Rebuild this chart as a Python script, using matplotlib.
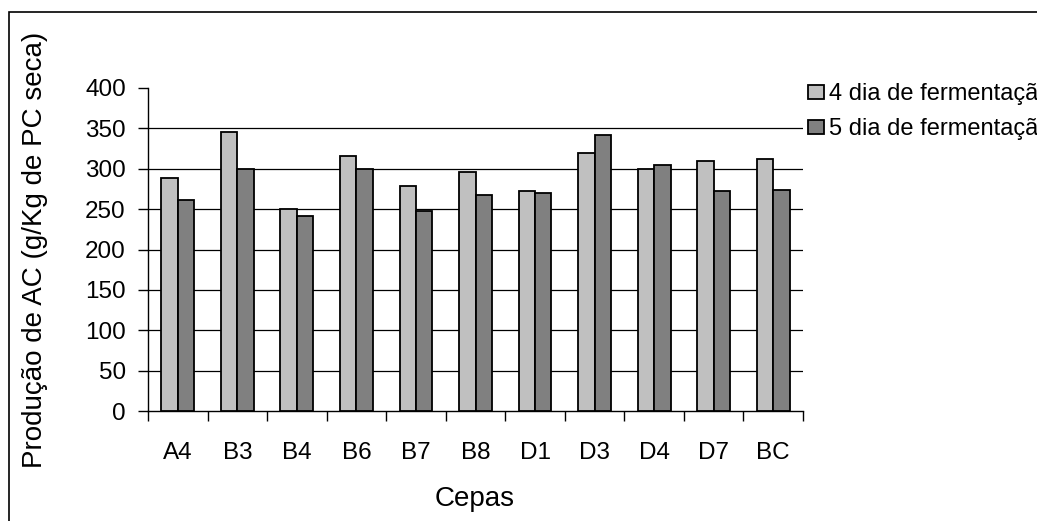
import numpy as np
from matplotlib import pyplot as plt
from matplotlib.patches import Rectangle

# ---------------- data ----------------
cepas = ["A4", "B3", "B4", "B6", "B7", "B8", "D1", "D3", "D4", "D7", "BC"]
dia4 = [289, 345, 250, 316, 279, 296, 272, 320, 300, 310, 312]
dia5 = [261, 300, 242, 300, 248, 267, 270, 342, 305, 272, 274]
series_labels = ["4 dia de fermentação", "5 dia de fermentação"]
y_ticks = [0, 50, 100, 150, 200, 250, 300, 350, 400]

plt.rcParams["font.family"] = ["Liberation Sans", "DejaVu Sans"]

W, H = 1037, 521
fig = plt.figure(figsize=(W / 100, H / 100), dpi=100)
fig.patch.set_facecolor("white")

# axes placed in pixels of the reference
ax = fig.add_axes([148 / W, 1 - 411 / H, (803 - 148) / W, (411 - 88) / H])

x = np.arange(len(cepas))
w = 0.275
ax.bar(x - w / 2, dia4, w, color="#c0c0c0", edgecolor="black", linewidth=1.3,
       label=series_labels[0], zorder=3)
ax.bar(x + w / 2, dia5, w, color="#808080", edgecolor="black", linewidth=1.3,
       label=series_labels[1], zorder=3)

# horizontal grid lines (not at 0 or top)
for v in y_ticks[1:-1]:
    ax.axhline(v, color="black", linewidth=0.9, zorder=1)

ax.set_xlim(-0.5, len(cepas) - 0.5)
ax.set_ylim(0, 400)
ax.set_yticks(y_ticks)
ax.set_xticks(x)
ax.set_xticklabels(cepas)
ax.set_xticks(np.arange(len(cepas) + 1) - 0.5, minor=True)

ax.tick_params(axis="y", direction="out", length=7, width=1, pad=9,
               labelsize=17.5, color="black")
ax.tick_params(axis="x", which="major", length=0, pad=22, labelsize=17.5)
ax.tick_params(axis="x", which="minor", direction="out", length=7, width=1)

for s in ["top", "right"]:
    ax.spines[s].set_visible(False)
for s in ["left", "bottom"]:
    ax.spines[s].set_linewidth(1)
    ax.spines[s].set_color("black")

ax.set_xlabel("Cepas", fontsize=20)
ax.set_ylabel("Produção de AC (g/Kg de PC seca)", fontsize=20)
ax.xaxis.set_label_coords(0.499, -0.232)
ax.yaxis.set_label_coords(-0.152, 0.5)

# legend, runs off the right edge like the source
fig.legend(loc="upper left", bbox_to_anchor=(808 / W, 1 - 83 / H),
           frameon=False, fontsize=17, handlelength=0.68, handleheight=0.55,
           handletextpad=0.2, labelspacing=0.55, borderpad=0, borderaxespad=0)

# outer frame, right and bottom sides cut off
fig.patches.append(Rectangle((9 / W, -0.1), 2, 1.1 - 12 / H, transform=fig.transFigure,
                             fill=False, edgecolor="black", linewidth=1.2))

fig.savefig("out.png", dpi=100)
